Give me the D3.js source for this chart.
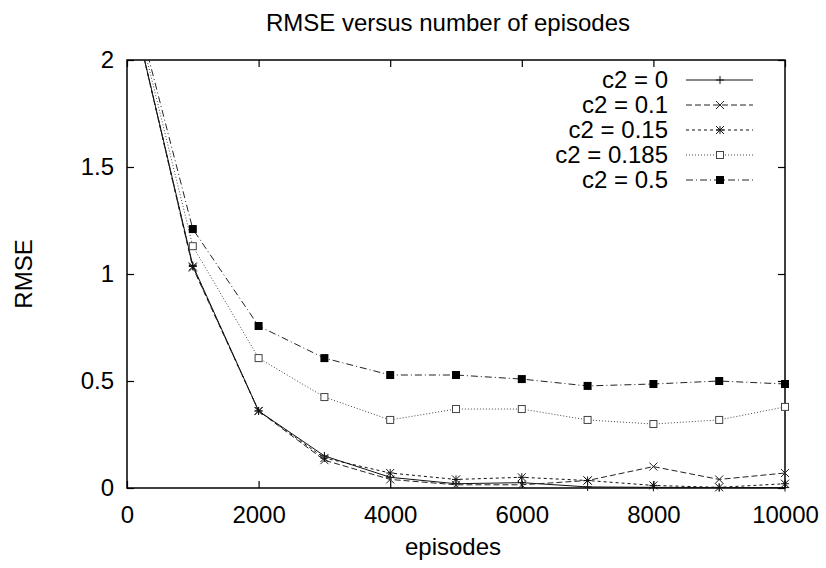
<!DOCTYPE html>
<html>
<head>
<meta charset="utf-8">
<script src="https://cdn.jsdelivr.net/npm/d3@7"></script>
<style>
  body { margin: 0; background: #fff; }
  text { font-family: 'Liberation Sans', Arial, Helvetica, sans-serif; fill: #000; }
</style>
</head>
<body>
<script>
var episodes = [0, 1000, 2000, 3000, 4000, 5000, 6000, 7000, 8000, 9000, 10000]
var rmseC2_0 = [2.35, 1.04, 0.36, 0.15, 0.05, 0.02, 0.025, 0.005, 0.003, 0.002, 0.002]
var rmseC2_01 = [2.35, 1.03, 0.36, 0.13, 0.04, 0.015, 0.015, 0.035, 0.1, 0.04, 0.07]
var rmseC2_015 = [2.35, 1.035, 0.36, 0.14, 0.07, 0.04, 0.05, 0.035, 0.012, 0.003, 0.02]
var rmseC2_0185 = [2.38, 1.13, 0.607, 0.425, 0.318, 0.369, 0.369, 0.318, 0.299, 0.318, 0.379]
var rmseC2_05 = [2.4, 1.21, 0.757, 0.607, 0.528, 0.528, 0.509, 0.477, 0.486, 0.5, 0.486]
var seriesLabels = ['c2 = 0', 'c2 = 0.1', 'c2 = 0.15', 'c2 = 0.185', 'c2 = 0.5']
var xTicks = [0, 2000, 4000, 6000, 8000, 10000]
var yTicks = [0, 0.5, 1, 1.5, 2]

var margin = {top: 60, right: 41, bottom: 80, left: 127},
  width = 826 - margin.left - margin.right,
  height = 568 - margin.top - margin.bottom

var series = [
  {name: seriesLabels[0], values: rmseC2_0, dash: null, marker: 'plus', color: '#111'},
  {name: seriesLabels[1], values: rmseC2_01, dash: '6,3', marker: 'cross', color: '#222'},
  {name: seriesLabels[2], values: rmseC2_015, dash: '3,3', marker: 'star', color: '#111'},
  {name: seriesLabels[3], values: rmseC2_0185, dash: '1,2', marker: 'box', color: '#444'},
  {name: seriesLabels[4], values: rmseC2_05, dash: '7,3,1,3', marker: 'boxfill', color: '#222'}
]

var x = d3.scaleLinear()
.domain([0, 10000])
.range([0, width])

var y = d3.scaleLinear()
.domain([0, 2])
.range([height, 0])

var svg = d3.select('body').append('svg')
.attr('width', 826)
.attr('height', 568)

svg.append('defs')
.append('clipPath')
.attr('id', 'plotClip')
.append('rect')
.attr('width', width)
.attr('height', height)

// title and axis labels
svg.append('text')
.attr('x', 448)
.attr('y', 31)
.attr('text-anchor', 'middle')
.style('font-size', '24px')
.text('RMSE versus number of episodes')

svg.append('text')
.attr('transform', 'translate(32,274) rotate(-90)')
.attr('text-anchor', 'middle')
.style('font-size', '24px')
.text('RMSE')

svg = svg.append('g')
.attr('transform', 'translate(' + margin.left + ',' + margin.top + ')')

svg.append('text')
.attr('x', width / 2 - 3)
.attr('y', height + 67)
.attr('text-anchor', 'middle')
.style('font-size', '24px')
.text('episodes')

// axes, ticks pointing inward, mirrored on top and right
var xAxis = d3.axisBottom(x).tickValues(xTicks).tickSize(-7).tickPadding(18).tickFormat(d3.format('d'))
var yAxis = d3.axisLeft(y).tickValues(yTicks).tickSize(-7).tickPadding(13).tickFormat(d3.format('~g'))

svg.append('g')
.attr('class', 'x axis')
.attr('transform', 'translate(0,' + height + ')')
.call(xAxis)

svg.append('g')
.attr('class', 'y axis')
.call(yAxis)

svg.append('g')
.attr('class', 'mirror')
.call(d3.axisTop(x).tickValues(xTicks).tickSize(-7).tickFormat(''))

svg.append('g')
.attr('class', 'mirror')
.attr('transform', 'translate(' + width + ',0)')
.call(d3.axisRight(y).tickValues(yTicks).tickSize(-7).tickFormat(''))

svg.selectAll('.domain').remove()
svg.selectAll('.tick line').attr('stroke', '#000').attr('stroke-width', 1.2)
svg.selectAll('.axis text').style('font-size', '24px').attr('fill', '#000')
svg.selectAll('.x.axis text').attr('dy', '0.71em')

svg.append('rect')
.attr('width', width)
.attr('height', height)
.attr('fill', 'none')
.attr('stroke', '#000')
.attr('stroke-width', 1.5)

function drawMarker (g, type, cx, cy) {
  var s = 4
  if (type === 'plus') {
    g.append('path').attr('d', 'M' + (cx - s) + ',' + cy + 'H' + (cx + s) + 'M' + cx + ',' + (cy - s) + 'V' + (cy + s))
  } else if (type === 'cross') {
    g.append('path').attr('d', 'M' + (cx - s) + ',' + (cy - s) + 'L' + (cx + s) + ',' + (cy + s) + 'M' + (cx - s) + ',' + (cy + s) + 'L' + (cx + s) + ',' + (cy - s))
  } else if (type === 'star') {
    g.append('path').attr('d', 'M' + (cx - s) + ',' + (cy - s) + 'L' + (cx + s) + ',' + (cy + s) + 'M' + (cx - s) + ',' + (cy + s) + 'L' + (cx + s) + ',' + (cy - s) +
      'M' + (cx - s) + ',' + cy + 'H' + (cx + s) + 'M' + cx + ',' + (cy - s) + 'V' + (cy + s))
  } else if (type === 'box') {
    g.append('rect').attr('x', cx - 3.5).attr('y', cy - 3.5).attr('width', 7).attr('height', 7)
    .attr('fill', '#fff')
  } else if (type === 'boxfill') {
    g.append('rect').attr('x', cx - 4).attr('y', cy - 4).attr('width', 8).attr('height', 8)
    .attr('fill', '#000').attr('stroke', 'none')
  }
}

var line = d3.line()
.x(function (d, i) { return x(episodes[i]) })
.y(function (d) { return y(d) })

var plot = svg.append('g')
.attr('clip-path', 'url(#plotClip)')
var points = svg.append('g')

series.forEach(function (s) {
  plot.append('path')
  .datum(s.values)
  .attr('fill', 'none')
  .attr('stroke', s.color)
  .attr('stroke-width', 1)
  .attr('stroke-dasharray', s.dash)
  .attr('d', line)

  // points are only drawn when inside the y range, not clipped at the frame
  var mg = points.append('g')
  .attr('fill', 'none')
  .attr('stroke', s.color)
  .attr('stroke-width', 1)
  s.values.forEach(function (v, i) {
    if (v <= 2) drawMarker(mg, s.marker, x(episodes[i]), y(v))
  })
})

// legend
var legend = svg.append('g')
.attr('transform', 'translate(' + (668 - margin.left) + ',' + (88 - margin.top) + ')')

series.forEach(function (s, i) {
  var row = legend.append('g')
  .attr('transform', 'translate(0,' + (i * 25) + ')')

  row.append('text')
  .attr('text-anchor', 'end')
  .style('font-size', '24px')
  .text(s.name)

  row.append('line')
  .attr('x1', 18)
  .attr('x2', 85)
  .attr('y1', -8)
  .attr('y2', -8)
  .attr('stroke', s.color)
  .attr('stroke-width', 1)
  .attr('stroke-dasharray', s.dash)

  var mg = row.append('g')
  .attr('fill', 'none')
  .attr('stroke', s.color)
  .attr('stroke-width', 1)
  drawMarker(mg, s.marker, 52, -8)
})
</script>
</body>
</html>
